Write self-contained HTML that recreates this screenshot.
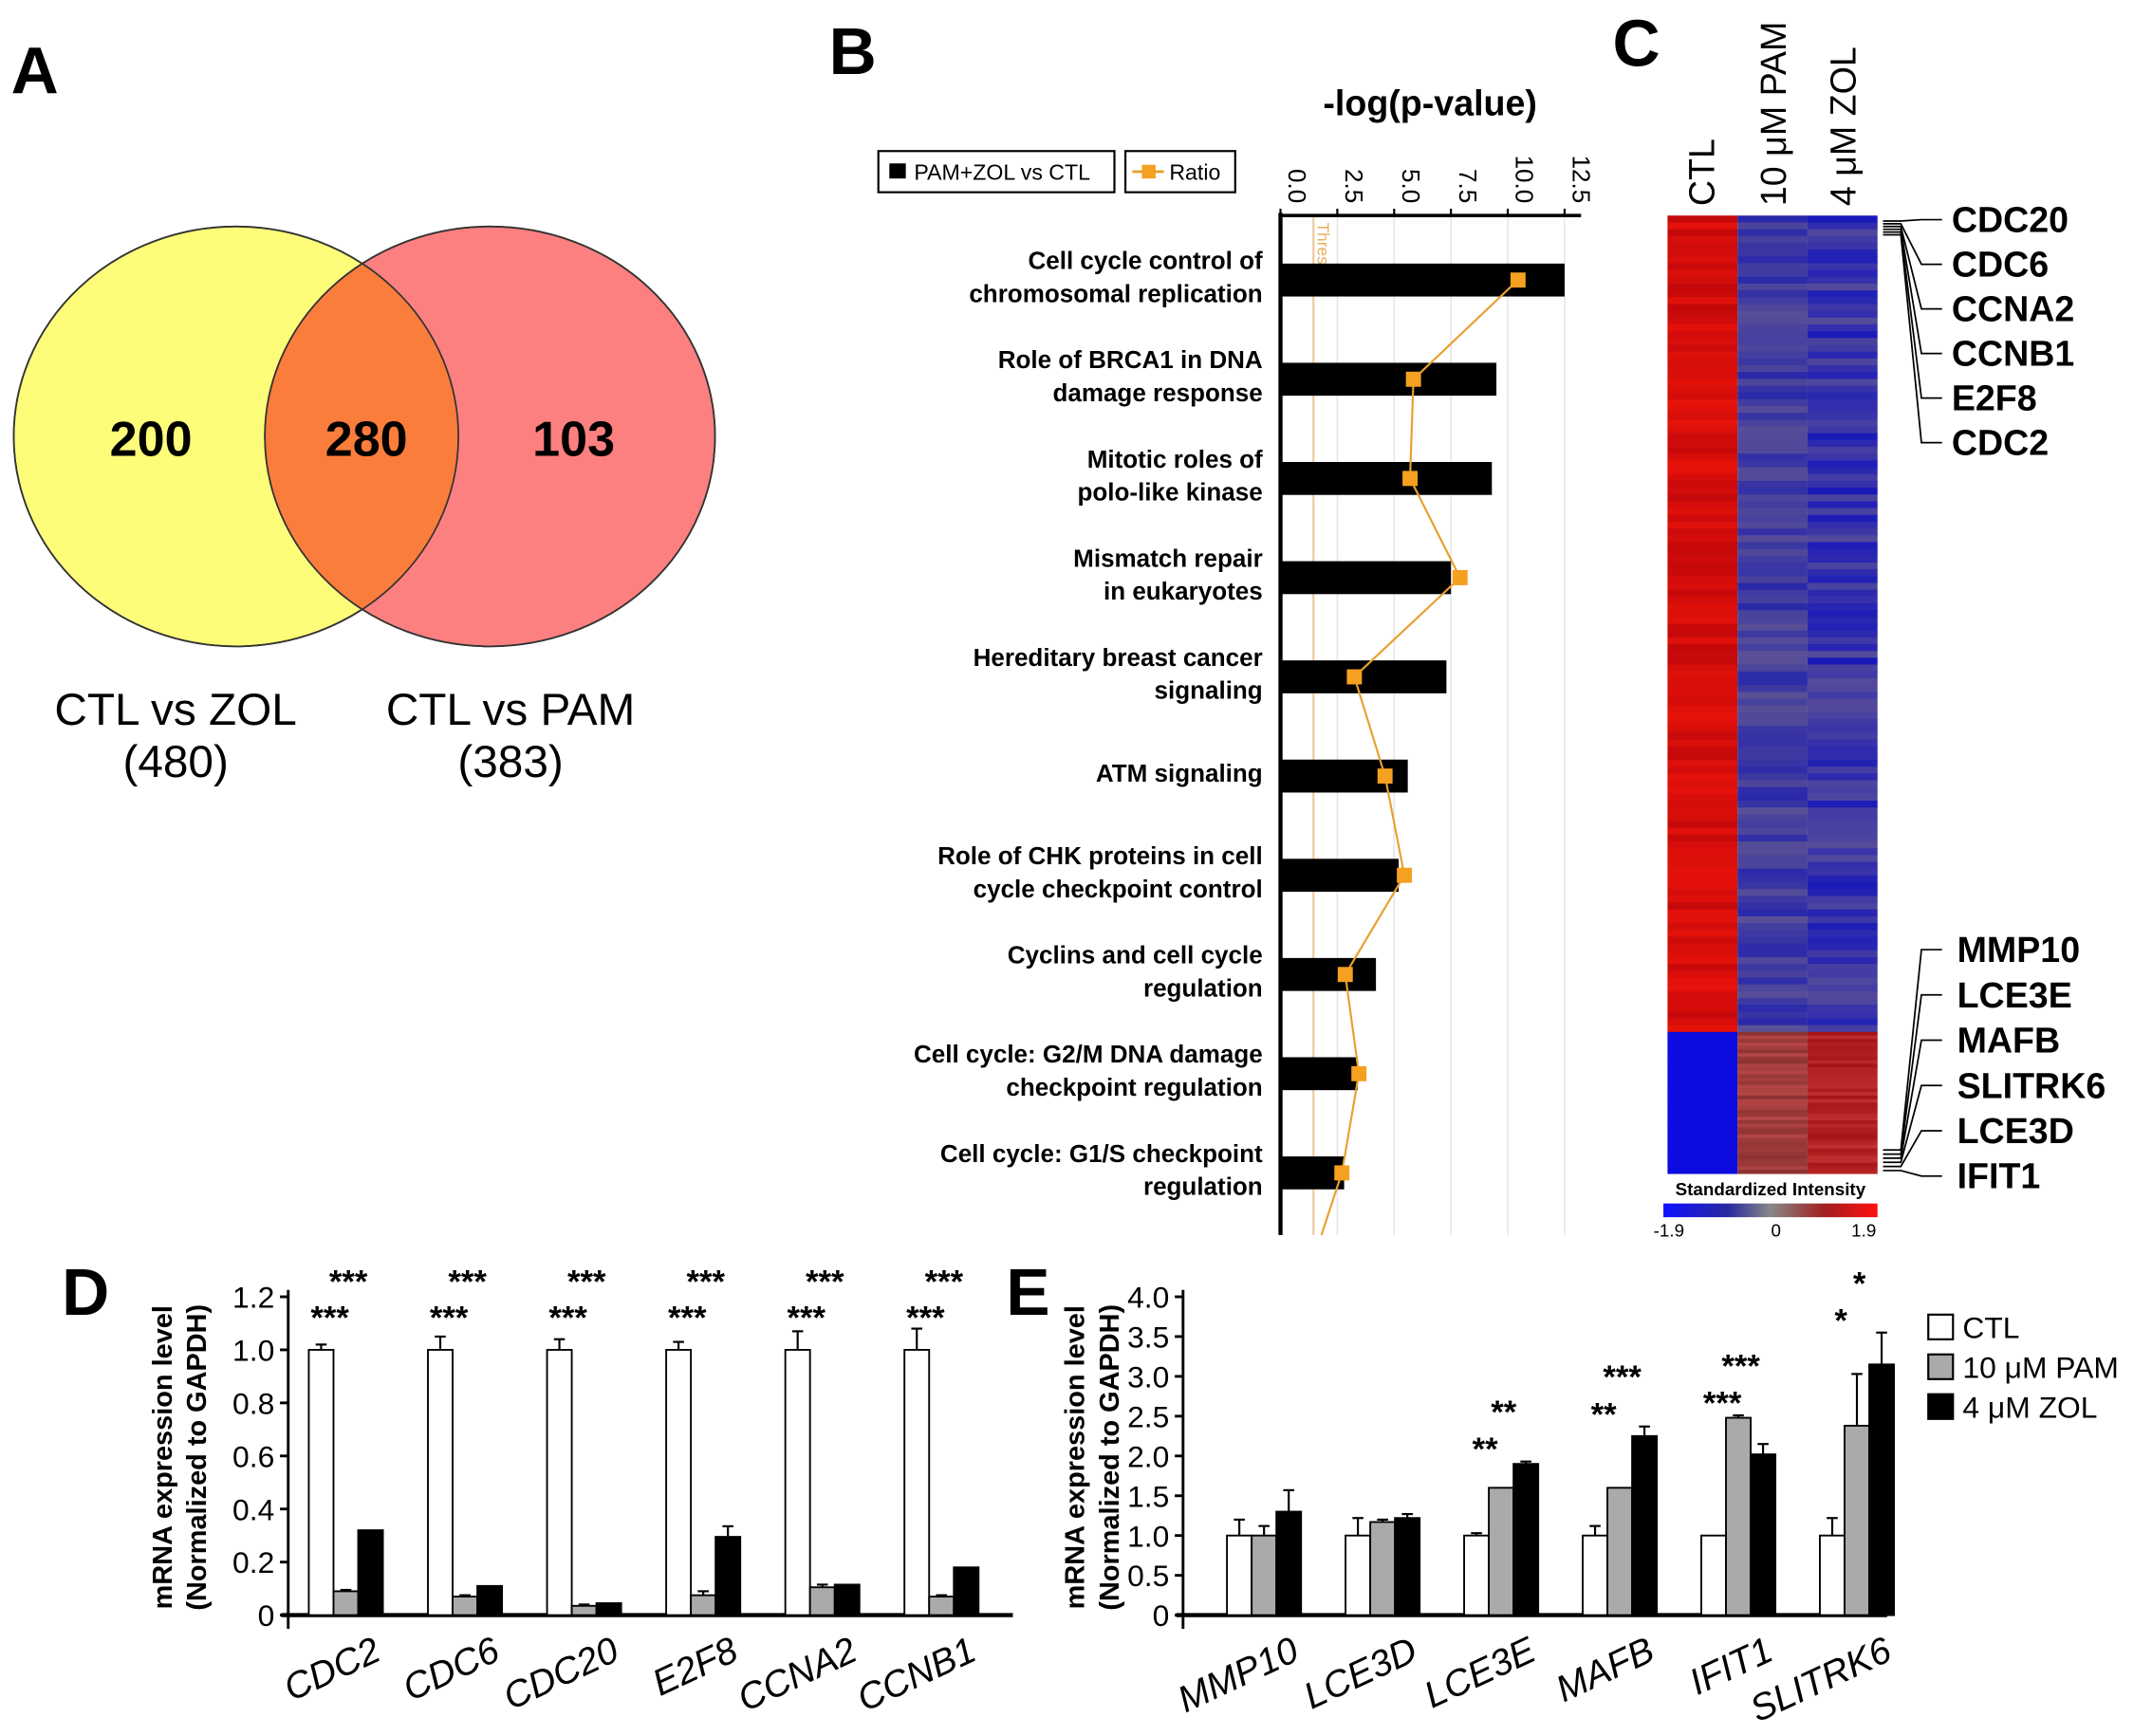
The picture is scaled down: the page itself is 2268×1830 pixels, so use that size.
<!DOCTYPE html>
<html><head><meta charset="utf-8"><style>
html,body{margin:0;padding:0;background:#fff;}
svg{display:block;font-family:"Liberation Sans",Arial,sans-serif;}
</style></head><body>
<svg id="fig" width="2268" height="1830" viewBox="0 0 1568 1265" xmlns="http://www.w3.org/2000/svg">
<rect width="1568" height="1265" fill="#fff"/>
<g font-size="48" font-weight="bold" fill="#000">
<text x="8" y="68">A</text><text x="604" y="54">B</text><text x="1175" y="48">C</text>
<text x="45" y="958">D</text><text x="733" y="958">E</text>
</g>
<g>
<ellipse cx="172" cy="318" rx="162" ry="153" fill="#fdfd7a" stroke="#333" stroke-width="1.2"/>
<ellipse cx="357" cy="318" rx="164" ry="153" fill="#fd8080" stroke="#333" stroke-width="1.2"/>
<clipPath id="cl"><ellipse cx="172" cy="318" rx="162" ry="153"/></clipPath>
<ellipse cx="357" cy="318" rx="164" ry="153" fill="#fb7d3c" clip-path="url(#cl)"/>
<ellipse cx="172" cy="318" rx="162" ry="153" fill="none" stroke="#333" stroke-width="1.2"/>
<ellipse cx="357" cy="318" rx="164" ry="153" fill="none" stroke="#333" stroke-width="1.2"/>
<g font-size="36" font-weight="bold" text-anchor="middle">
<text x="110" y="332">200</text><text x="267" y="332">280</text><text x="418" y="332">103</text></g>
<g font-size="33" text-anchor="middle">
<text x="128" y="528">CTL vs ZOL</text><text x="128" y="566">(480)</text>
<text x="372" y="528">CTL vs PAM</text><text x="372" y="566">(383)</text></g>
</g>
<g id="panelB"></g>
<g id="panelC"></g>
<g id="panelD"></g>
<g id="panelE"></g>
</svg>
<script>
// ---- Panel B data ----
const pathways = [["Cell cycle control of","chromosomal replication"],["Role of BRCA1 in DNA","damage response"],["Mitotic roles of","polo-like kinase"],["Mismatch repair","in eukaryotes"],["Hereditary breast cancer","signaling"],["ATM signaling"],["Role of CHK proteins in cell","cycle checkpoint control"],["Cyclins and cell cycle","regulation"],["Cell cycle: G2/M DNA damage","checkpoint regulation"],["Cell cycle: G1/S checkpoint","regulation"]];
const logP = [12.5,9.5,9.3,7.5,7.3,5.6,5.2,4.2,3.4,2.8];
const ratio = [10.45,5.85,5.7,7.9,3.25,4.6,5.45,2.85,3.45,2.7];
const bTicks = [0,2.5,5,7.5,10,12.5];
const bTickLabels = ["0.0","2.5","5.0","7.5","10.0","12.5"];
const threshold = 1.45;
// ---- Panel D data ----
const dGenes = ["CDC2","CDC6","CDC20","E2F8","CCNA2","CCNB1"];
const dCTL = [1.0,1.0,1.0,1.0,1.0,1.0];
const dCTLerr = [0.02,0.05,0.04,0.03,0.07,0.08];
const dPAM = [0.09,0.07,0.035,0.075,0.105,0.07];
const dPAMerr = [0.005,0.005,0.005,0.015,0.01,0.005];
const dZOL = [0.32,0.11,0.045,0.295,0.115,0.18];
const dZOLerr = [0,0,0,0.04,0,0];
const dTicks = [0,0.2,0.4,0.6,0.8,1.0,1.2];
const dTickLabels = ["0","0.2","0.4","0.6","0.8","1.0","1.2"];
// ---- Panel E data ----
const eGenes = ["MMP10","LCE3D","LCE3E","MAFB","IFIT1","SLITRK6"];
const eCTL = [1.0,1.0,1.0,1.0,1.0,1.0];
const eCTLerr = [0.2,0.22,0.03,0.12,0,0.22];
const ePAM = [1.0,1.17,1.6,1.6,2.48,2.38];
const ePAMerr = [0.12,0.03,0,0,0.03,0.65];
const eZOL = [1.3,1.22,1.9,2.25,2.02,3.15];
const eZOLerr = [0.27,0.05,0.03,0.12,0.13,0.4];
const eTicks = [0,0.5,1,1.5,2,2.5,3,3.5,4];
const eTickLabels = ["0","0.5","1.0","1.5","2.0","2.5","3.0","3.5","4.0"];
const eStarsPAM = ["","","**","**","***","*"];
const eStarsZOL = ["","","**","***","***","*"];

const NS="http://www.w3.org/2000/svg";
function mk(parent,tag,attrs,text){const e=document.createElementNS(NS,tag);for(const k in attrs)e.setAttribute(k,attrs[k]);if(text!==undefined)e.textContent=text;parent.appendChild(e);return e;}

// ---- Panel B ----
(function(){
const g=document.getElementById('panelB');
const x0=933, x1=1140, ax=v=>x0+(x1-x0)*v/12.5;
const rowY=i=>204+i*72.3;
bTicks.forEach((t,i)=>{
  const l=mk(g,'line',{x1:ax(t),x2:ax(t),y1:157,y2:900,stroke:'#e4e4e4','stroke-width':1});
  
  mk(g,'line',{x1:ax(t),x2:ax(t),y1:152,y2:158,stroke:'#000','stroke-width':1.5});
  const tx=mk(g,'text',{x:0,y:0,'font-size':18,transform:`translate(${ax(t)+6},148) rotate(90)`,'text-anchor':'end'},bTickLabels[i]);
  
});
const th=mk(g,'line',{x1:ax(threshold),x2:ax(threshold),y1:157,y2:900,stroke:'#f0c8a0','stroke-width':1.5});

mk(g,'text',{x:0,y:0,'font-size':12,fill:'#e8b060',transform:`translate(${ax(threshold)+3},162) rotate(90)`},'Threshold');
mk(g,'line',{x1:x0,x2:1152,y1:157,y2:157,stroke:'#000','stroke-width':2.5});
mk(g,'line',{x1:x0,x2:x0,y1:155,y2:900,stroke:'#000','stroke-width':3});
const tt=mk(g,'text',{x:1042,y:84,'font-size':26,'font-weight':'bold','text-anchor':'middle'},'-log(p-value)');

logP.forEach((v,i)=>{
  const r=mk(g,'rect',{x:x0,y:rowY(i)-12,width:ax(v)-x0,height:24,fill:'#000'});
  
  const lines=pathways[i];
  lines.forEach((s,j)=>{
    const yy=lines.length===1?rowY(i)+4:rowY(i)-12+j*24+4;
    const t=mk(g,'text',{x:920,y:yy,'font-size':18,'font-weight':'bold','text-anchor':'end'},s);
    
  });
});
let pts=ratio.map((v,i)=>ax(v)+','+rowY(i)).join(' ');
pts+=' '+ax(1.8)+',900';
const pl=mk(g,'polyline',{points:pts,fill:'none',stroke:'#e8a030','stroke-width':1.5});

ratio.forEach((v,i)=>{
  const m=mk(g,'rect',{x:ax(v)-5.5,y:rowY(i)-5.5,width:11,height:11,fill:'#f5a020'});
  
});
const lg=mk(g,'g',{});

mk(lg,'rect',{x:640,y:110,width:172,height:30,fill:'#fff',stroke:'#000','stroke-width':1.5});
mk(lg,'rect',{x:648,y:119,width:12,height:11,fill:'#000'});
mk(lg,'text',{x:666,y:131,'font-size':16},'PAM+ZOL vs CTL');
mk(lg,'rect',{x:820,y:110,width:80,height:30,fill:'#fff',stroke:'#000','stroke-width':1.5});
mk(lg,'line',{x1:825,x2:848,y1:125,y2:125,stroke:'#e8a030','stroke-width':2});
mk(lg,'rect',{x:832,y:120,width:10,height:10,fill:'#f5a020'});
mk(lg,'text',{x:852,y:131,'font-size':16},'Ratio');
})();

// ---- Panel C heatmap (texture) ----
(function(){
const g=document.getElementById('panelC');
const X=[1215,1266,1317,1368], top=157, split=752, bot=855;
const n=120, h=(split-top)/n;
for(let i=0;i<n;i++){
  const a=Math.abs(Math.sin(i*12.9898)*43758.5453)%1, b=Math.abs(Math.sin(i*78.233)*12345.678)%1, c=Math.abs(Math.sin(i*3.7)*999.1)%1;
  const y=top+i*h;
  mk(g,'rect',{x:X[0],y:y,width:51,height:h+0.5,fill:`rgb(${195+Math.round(a*35)},${8+Math.round(a*10)},${10})`});
  mk(g,'rect',{x:X[1],y:y,width:51,height:h+0.5,fill:`rgb(${40+Math.round(b*50)},${40+Math.round(b*40)},${170-Math.round(b*20)})`});
  mk(g,'rect',{x:X[2],y:y,width:51,height:h+0.5,fill:`rgb(${25+Math.round(c*60)},${25+Math.round(c*50)},${185-Math.round(c*30)})`});
}
const m=40, h2=(bot-split)/m;
for(let i=0;i<m;i++){
  const b=Math.abs(Math.sin(i*5.1)*4375.5)%1, c=Math.abs(Math.sin(i*9.3)*777.7)%1;
  const y=split+i*h2;
  mk(g,'rect',{x:X[0],y:y,width:51,height:h2+0.5,fill:'#0c0ce0'});
  mk(g,'rect',{x:X[1],y:y,width:51,height:h2+0.5,fill:`rgb(${140+Math.round(b*40)},${50+Math.round(b*20)},${50+Math.round(b*20)})`});
  mk(g,'rect',{x:X[2],y:y,width:51,height:h2+0.5,fill:`rgb(${165+Math.round(c*30)},${20+Math.round(c*30)},${20+Math.round(c*30)})`});
}
const cols=["CTL","10 μM PAM","4 μM ZOL"], cx=[1240,1292,1343];
cols.forEach((s,i)=>{
  const t=mk(g,'text',{x:0,y:0,'font-size':26,transform:`translate(${cx[i]+9},150) rotate(-90)`},s);
  
});
const up=["CDC20","CDC6","CCNA2","CCNB1","E2F8","CDC2"];
up.forEach((s,i)=>{
  const ly=160+i*32.5;
  mk(g,'path',{d:`M1372 ${161+i*2} L1385 ${161+i*2} L${1400} ${ly} L1415 ${ly}`,fill:'none',stroke:'#000','stroke-width':1.2});
  const t=mk(g,'text',{x:1422,y:ly+9,'font-size':26,'font-weight':'bold'},s);
  
});
const dn=["MMP10","LCE3E","MAFB","SLITRK6","LCE3D","IFIT1"];
dn.forEach((s,i)=>{
  const ly=692+i*33;
  mk(g,'path',{d:`M1372 ${838+i*3} L1385 ${838+i*3} L${1400} ${ly} L1415 ${ly}`,fill:'none',stroke:'#000','stroke-width':1.2});
  const t=mk(g,'text',{x:1426,y:ly+9,'font-size':26,'font-weight':'bold'},s);
  
});
const defs=mk(g,'defs',{});
const lgd=mk(defs,'linearGradient',{id:'cb'});
[['0','#1010ff'],['0.3','#2828a0'],['0.5','#888'],['0.75','#a02020'],['1','#ff1010']].forEach(s=>mk(lgd,'stop',{offset:s[0],'stop-color':s[1]}));
const cb=mk(g,'rect',{x:1212,y:877,width:156,height:10,fill:'url(#cb)'});

mk(g,'text',{x:1290,y:871,'font-size':13,'font-weight':'bold','text-anchor':'middle'},'Standardized Intensity');
mk(g,'text',{x:1216,y:901,'font-size':13,'text-anchor':'middle'},'-1.9');
mk(g,'text',{x:1294,y:901,'font-size':13,'text-anchor':'middle'},'0');
mk(g,'text',{x:1358,y:901,'font-size':13,'text-anchor':'middle'},'1.9');
})();

// ---- bar chart helper ----
function barChart(id,o){
const g=document.getElementById(id);
const ay=v=>o.y0-(o.y0-o.yTop)*v/o.max;
o.ticks.forEach((t,i)=>{
  mk(g,'line',{x1:o.ax-6,x2:o.ax,y1:ay(t),y2:ay(t),stroke:'#000','stroke-width':2});
  const tx=mk(g,'text',{x:o.ax-10,y:ay(t)+8,'font-size':22,'text-anchor':'end'},o.labels[i]);
  
});
mk(g,'line',{x1:o.ax,x2:o.ax,y1:o.yTop-5,y2:o.y0+10,stroke:'#000','stroke-width':2});
mk(g,'line',{x1:o.ax-5,x2:o.xEnd,y1:o.y0,y2:o.y0,stroke:'#000','stroke-width':3});
const t1=mk(g,'text',{x:0,y:0,'font-size':20,'font-weight':'bold','text-anchor':'middle',transform:`translate(${o.titleX},${o.titleY}) rotate(-90)`},'mRNA expression level');

mk(g,'text',{x:0,y:0,'font-size':20,'font-weight':'bold','text-anchor':'middle',transform:`translate(${o.titleX+25},${o.titleY}) rotate(-90)`},'(Normalized to GAPDH)');
const w=18;
o.genes.forEach((gn,i)=>{
  const cx=o.first+i*o.step;
  [[o.ctl,o.ctlE,'#fff','ctl'],[o.pam,o.pamE,'#aaa','pam'],[o.zol,o.zolE,'#000','zol']].forEach((s,k)=>{
    const x=cx+k*w, v=s[0][i], e=s[1][i];
    if(e>0){mk(g,'line',{x1:x+w/2,x2:x+w/2,y1:ay(v),y2:ay(v+e),stroke:'#000','stroke-width':1.5});
      mk(g,'line',{x1:x+w/2-4,x2:x+w/2+4,y1:ay(v+e),y2:ay(v+e),stroke:'#000','stroke-width':1.5});}
    const r=mk(g,'rect',{x:x,y:ay(v),width:w,height:o.y0-ay(v),fill:s[2],stroke:'#000','stroke-width':1.3});
    
  });
  const lt=mk(g,'text',{x:0,y:0,'font-size':27,'font-style':'italic','text-anchor':'end',transform:`translate(${cx+w*3},${o.y0+32}) rotate(-25)`},gn);
  
  const top=Math.max(o.pam[i]+o.pamE[i],o.zol[i]+o.zolE[i]);
  if(o.starsZ[i]){const s=mk(g,'text',{x:cx+w*1.6,y:o.starY1(top),'font-size':24,'font-weight':'bold','text-anchor':'middle'},o.starsZ[i]);}
  if(o.starsP[i]){const s=mk(g,'text',{x:cx+w*0.85,y:o.starY2(top),'font-size':24,'font-weight':'bold','text-anchor':'middle'},o.starsP[i]);}
});
return ay;
}
function eay2(v){return 1177-(1177-945)*v/4.0;}
barChart('panelD',{ax:210,y0:1177,yTop:945,max:1.2,ticks:dTicks,labels:dTickLabels,xEnd:738,titleX:125,titleY:1062,
 genes:dGenes,first:225,step:86.8,ctl:dCTL,ctlE:dCTLerr,pam:dPAM,pamE:dPAMerr,zol:dZOL,zolE:dZOLerr,
 starsZ:dGenes.map(()=>'***'),starsP:dGenes.map(()=>'***'),starY1:()=>942,starY2:()=>968});
barChart('panelE',{ax:862,y0:1177,yTop:945,max:4.0,ticks:eTicks,labels:eTickLabels,xEnd:1375,titleX:790,titleY:1062,
 genes:eGenes,first:894,step:86.4,ctl:eCTL,ctlE:eCTLerr,pam:ePAM,pamE:ePAMerr,zol:eZOL,zolE:eZOLerr,
 starsZ:eStarsZOL,starsP:eStarsPAM,
 starY1:t=>eay2(t)-28,starY2:t=>eay2(t)-1});
(function(){
const g=document.getElementById('panelE');
[['CTL','#fff'],['10 μM PAM','#aaa'],['4 μM ZOL','#000']].forEach((s,i)=>{
  const y=958+i*29;
  const r=mk(g,'rect',{x:1405,y:y,width:18,height:18,fill:s[1],stroke:'#000','stroke-width':1.5});
  
  const t=mk(g,'text',{x:1430,y:y+17,'font-size':22},s[0]);
  
});
})();
</script>
</body></html>
